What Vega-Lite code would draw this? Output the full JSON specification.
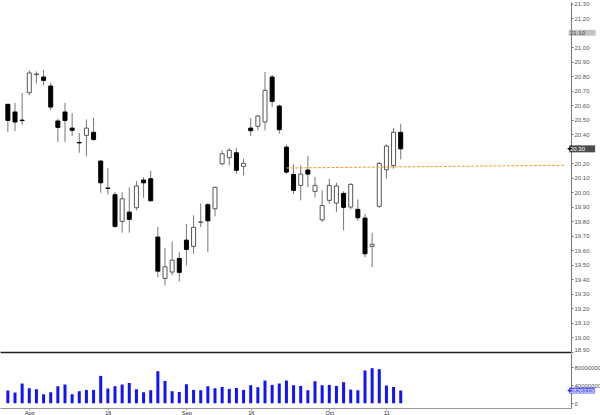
{
  "$schema": "https://vega.github.io/schema/vega-lite/v6.json",
  "padding": 0,
  "spacing": 0,
  "background": "white",
  "config": {
    "view": {"stroke": null},
    "font": "Liberation Sans",
    "axis": {"labelFont": "Liberation Sans", "labelFontSize": 6, "labelColor": "#555", "grid": false, "labelOverlap": false, "title": null}
  },
  "resolve": {"scale": {"x": "independent", "y": "independent"}},
  "datasets": {
    "k": [
      {"i": 0, "o": 20.607, "h": 20.61, "l": 20.416, "c": 20.496, "v": 28200000},
      {"i": 1, "o": 20.554, "h": 20.616, "l": 20.423, "c": 20.485, "v": 23800000},
      {"i": 2, "o": 20.498, "h": 20.685, "l": 20.466, "c": 20.495, "v": 43800000},
      {"i": 3, "o": 20.687, "h": 20.841, "l": 20.669, "c": 20.823, "v": 33300000},
      {"i": 4, "o": 20.811, "h": 20.834, "l": 20.749, "c": 20.816, "v": 31100000},
      {"i": 5, "o": 20.795, "h": 20.843, "l": 20.738, "c": 20.772, "v": 20000000},
      {"i": 6, "o": 20.733, "h": 20.756, "l": 20.565, "c": 20.588, "v": 24400000},
      {"i": 7, "o": 20.492, "h": 20.508, "l": 20.347, "c": 20.448, "v": 37800000},
      {"i": 8, "o": 20.554, "h": 20.616, "l": 20.347, "c": 20.496, "v": 41600000},
      {"i": 9, "o": 20.443, "h": 20.547, "l": 20.388, "c": 20.428, "v": 20000000},
      {"i": 10, "o": 20.344, "h": 20.409, "l": 20.273, "c": 20.341, "v": 26700000},
      {"i": 11, "o": 20.393, "h": 20.503, "l": 20.248, "c": 20.443, "v": 29600000},
      {"i": 12, "o": 20.414, "h": 20.514, "l": 20.356, "c": 20.365, "v": 29600000},
      {"i": 13, "o": 20.216, "h": 20.22, "l": 19.997, "c": 20.066, "v": 60700000},
      {"i": 14, "o": 20.03, "h": 20.168, "l": 19.984, "c": 20.027, "v": 32700000},
      {"i": 15, "o": 19.984, "h": 20.002, "l": 19.756, "c": 19.766, "v": 37800000},
      {"i": 16, "o": 19.8, "h": 20.002, "l": 19.722, "c": 19.956, "v": 41600000},
      {"i": 17, "o": 19.864, "h": 20.035, "l": 19.722, "c": 19.814, "v": 45100000},
      {"i": 18, "o": 19.894, "h": 20.078, "l": 19.876, "c": 20.044, "v": 31100000},
      {"i": 19, "o": 20.085, "h": 20.106, "l": 19.963, "c": 20.066, "v": 24400000},
      {"i": 20, "o": 20.094, "h": 20.149, "l": 19.938, "c": 19.942, "v": 28900000},
      {"i": 21, "o": 19.692, "h": 19.761, "l": 19.416, "c": 19.457, "v": 71100000},
      {"i": 22, "o": 19.407, "h": 19.616, "l": 19.359, "c": 19.487, "v": 49600000},
      {"i": 23, "o": 19.451, "h": 19.662, "l": 19.428, "c": 19.533, "v": 26700000},
      {"i": 24, "o": 19.545, "h": 19.588, "l": 19.387, "c": 19.449, "v": 25100000},
      {"i": 25, "o": 19.671, "h": 19.782, "l": 19.497, "c": 19.607, "v": 42200000},
      {"i": 26, "o": 19.628, "h": 19.842, "l": 19.577, "c": 19.759, "v": 29600000},
      {"i": 27, "o": 19.793, "h": 19.922, "l": 19.761, "c": 19.797, "v": 28900000},
      {"i": 28, "o": 19.915, "h": 19.926, "l": 19.588, "c": 19.804, "v": 37800000},
      {"i": 29, "o": 19.887, "h": 20.039, "l": 19.835, "c": 20.035, "v": 33300000},
      {"i": 30, "o": 20.197, "h": 20.29, "l": 20.186, "c": 20.266, "v": 36200000},
      {"i": 31, "o": 20.239, "h": 20.305, "l": 20.186, "c": 20.29, "v": 31800000},
      {"i": 32, "o": 20.273, "h": 20.305, "l": 20.128, "c": 20.152, "v": 34000000},
      {"i": 33, "o": 20.179, "h": 20.232, "l": 20.117, "c": 20.2, "v": 29600000},
      {"i": 34, "o": 20.443, "h": 20.512, "l": 20.388, "c": 20.425, "v": 40000000},
      {"i": 35, "o": 20.455, "h": 20.535, "l": 20.427, "c": 20.526, "v": 35600000},
      {"i": 36, "o": 20.485, "h": 20.829, "l": 20.427, "c": 20.703, "v": 50400000},
      {"i": 37, "o": 20.795, "h": 20.811, "l": 20.588, "c": 20.627, "v": 40700000},
      {"i": 38, "o": 20.595, "h": 20.604, "l": 20.404, "c": 20.432, "v": 43800000},
      {"i": 39, "o": 20.312, "h": 20.328, "l": 20.128, "c": 20.14, "v": 50400000},
      {"i": 40, "o": 20.124, "h": 20.193, "l": 19.99, "c": 20.014, "v": 40000000},
      {"i": 41, "o": 20.048, "h": 20.186, "l": 19.945, "c": 20.126, "v": 38400000},
      {"i": 42, "o": 20.154, "h": 20.25, "l": 20.037, "c": 20.126, "v": 28900000},
      {"i": 43, "o": 20.007, "h": 20.106, "l": 19.966, "c": 20.048, "v": 48900000},
      {"i": 44, "o": 19.811, "h": 20.014, "l": 19.795, "c": 19.91, "v": 40000000},
      {"i": 45, "o": 19.945, "h": 20.094, "l": 19.922, "c": 20.048, "v": 40700000},
      {"i": 46, "o": 19.926, "h": 20.066, "l": 19.864, "c": 20.044, "v": 38400000},
      {"i": 47, "o": 19.993, "h": 20.007, "l": 19.738, "c": 19.897, "v": 46700000},
      {"i": 48, "o": 19.899, "h": 20.064, "l": 19.883, "c": 20.055, "v": 30400000},
      {"i": 49, "o": 19.883, "h": 19.952, "l": 19.804, "c": 19.825, "v": 28900000},
      {"i": 50, "o": 19.823, "h": 19.853, "l": 19.554, "c": 19.577, "v": 72700000},
      {"i": 51, "o": 19.628, "h": 19.722, "l": 19.485, "c": 19.642, "v": 77800000},
      {"i": 52, "o": 19.904, "h": 20.209, "l": 19.892, "c": 20.2, "v": 75600000},
      {"i": 53, "o": 20.156, "h": 20.331, "l": 20.094, "c": 20.319, "v": 39300000},
      {"i": 54, "o": 20.186, "h": 20.445, "l": 20.163, "c": 20.414, "v": 36200000},
      {"i": 55, "o": 20.414, "h": 20.473, "l": 20.227, "c": 20.3, "v": 28263100}
    ],
    "trend": [
      {"i": 39, "p": 20.168},
      {"i": 78, "p": 20.187}
    ],
    "level": [
      {"p": 21.1}
    ]
  },
  "vconcat": [
    {
      "width": 571,
      "height": 350,
      "layer": [
        {
          "data": {"name": "k"},
          "mark": {"type": "rule", "color": "#777", "strokeWidth": 1},
          "encoding": {
            "x": {"field": "i", "type": "quantitative", "scale": {"domain": [-0.4, 78.14], "nice": false, "zero": false},
                  "axis": {"labels": false, "ticks": false, "domain": true, "domainColor": "#222", "domainWidth": 1.5}},
            "y": {"field": "l", "type": "quantitative", "scale": {"domain": [18.9, 21.312], "nice": false, "zero": false},
                  "axis": {"orient": "right", "values": [18.9, 19.0, 19.1, 19.2, 19.3, 19.4, 19.5, 19.6, 19.7, 19.8, 19.9, 20.0, 20.1, 20.2, 20.4, 20.5, 20.6, 20.7, 20.8, 20.9, 21.0, 21.2, 21.3],
                           "tickCount": 100, "format": ".2f", "tickSize": 2, "labelPadding": 1, "domainColor": "#777", "tickColor": "#777",
                           "labelOverlap": false, "labelSeparation": 0, "labelFlush": true}},
            "y2": {"field": "h"}
          }
        },
        {
          "data": {"name": "k"},
          "mark": {"type": "bar", "width": 4, "strokeWidth": 1},
          "encoding": {
            "x": {"field": "i", "type": "quantitative"},
            "y": {"field": "o", "type": "quantitative"},
            "y2": {"field": "c"},
            "fill": {"condition": {"test": "datum.c < datum.o", "value": "#000000"}, "value": "#ffffff"},
            "stroke": {"condition": {"test": "datum.c < datum.o", "value": "#000000"}, "value": "#555555"}
          }
        },
        {
          "data": {"name": "trend"},
          "mark": {"type": "line", "color": "#e8a030", "strokeWidth": 1, "strokeDash": [3, 1.5]},
          "encoding": {
            "x": {"field": "i", "type": "quantitative"},
            "y": {"field": "p", "type": "quantitative"}
          }
        },
        {
          "data": {"name": "level"},
          "mark": {"type": "tick", "orient": "horizontal", "thickness": 6, "size": 27, "color": "#a8a8a8"},
          "encoding": {
            "x": {"datum": 80.4, "type": "quantitative"},
            "y": {"field": "p", "type": "quantitative"}
          }
        },
        {
          "data": {"name": "level"},
          "mark": {"type": "text", "align": "left", "baseline": "middle", "fontSize": 6, "color": "#444"},
          "encoding": {
            "x": {"datum": 78.7, "type": "quantitative"},
            "y": {"field": "p", "type": "quantitative"},
            "text": {"field": "p", "type": "quantitative", "format": ".2f"}
          }
        },
        {
          "data": {"name": "k"},
          "transform": [{"filter": "datum.i == 55"}],
          "mark": {"type": "tick", "orient": "horizontal", "thickness": 7, "size": 26, "color": "#000000"},
          "encoding": {
            "x": {"datum": 80.4, "type": "quantitative"},
            "y": {"field": "c", "type": "quantitative"}
          }
        },
        {
          "data": {"name": "k"},
          "transform": [{"filter": "datum.i == 55"}],
          "mark": {"type": "point", "shape": "triangle-left", "filled": true, "size": 18, "color": "#000000", "opacity": 1},
          "encoding": {
            "x": {"datum": 78.55, "type": "quantitative"},
            "y": {"field": "c", "type": "quantitative"}
          }
        },
        {
          "data": {"name": "k"},
          "transform": [{"filter": "datum.i == 55"}],
          "mark": {"type": "text", "align": "left", "baseline": "middle", "fontSize": 6, "color": "#ffffff"},
          "encoding": {
            "x": {"datum": 78.7, "type": "quantitative"},
            "y": {"field": "c", "type": "quantitative"},
            "text": {"field": "c", "type": "quantitative", "format": ".2f"}
          }
        }
      ]
    },
    {
      "width": 571,
      "height": 55,
      "data": {"name": "k"},
      "layer": [
        {
          "mark": {"type": "bar", "width": 3, "color": "#1212ff"},
          "encoding": {
            "x": {"field": "i", "type": "quantitative", "scale": {"domain": [-0.4, 78.14], "nice": false, "zero": false},
                  "axis": {"values": [3, 14, 25, 34, 45, 53], "tickCount": 100,
                           "labelExpr": "datum.value == 3 ? 'Aug' : datum.value == 14 ? '16' : datum.value == 25 ? 'Sep' : datum.value == 34 ? '16' : datum.value == 45 ? 'Oct' : '11'",
                           "tickSize": 2, "labelPadding": 0, "labelFontSize": 5.5, "domainColor": "#999", "tickColor": "#999", "labelColor": "#222", "labelFlush": false, "labelOverlap": false}},
            "y": {"field": "v", "type": "quantitative", "scale": {"domain": [-10500000, 111500000], "nice": false, "zero": false},
                  "axis": {"orient": "right", "values": [0, 40000000, 80000000], "tickCount": 100, "format": "d", "tickSize": 2, "labelPadding": 1, "domainColor": "#777", "tickColor": "#777", "labelOverlap": false, "labelSeparation": 0, "labelFlush": false}},
            "y2": {"datum": 0}
          }
        },
        {
          "transform": [{"filter": "datum.i == 55"}],
          "mark": {"type": "tick", "orient": "horizontal", "thickness": 6, "size": 26, "color": "#2020ff"},
          "encoding": {
            "x": {"datum": 80.4, "type": "quantitative"},
            "y": {"field": "v", "type": "quantitative"}
          }
        },
        {
          "transform": [{"filter": "datum.i == 55"}],
          "mark": {"type": "point", "shape": "triangle-left", "filled": true, "size": 16, "color": "#2020ff", "opacity": 1},
          "encoding": {
            "x": {"datum": 78.55, "type": "quantitative"},
            "y": {"field": "v", "type": "quantitative"}
          }
        },
        {
          "transform": [{"filter": "datum.i == 55"}],
          "mark": {"type": "text", "align": "left", "baseline": "middle", "fontSize": 6, "color": "#ffffff"},
          "encoding": {
            "x": {"datum": 78.7, "type": "quantitative"},
            "y": {"field": "v", "type": "quantitative"},
            "text": {"field": "v", "type": "quantitative", "format": "d"}
          }
        }
      ]
    }
  ]
}
